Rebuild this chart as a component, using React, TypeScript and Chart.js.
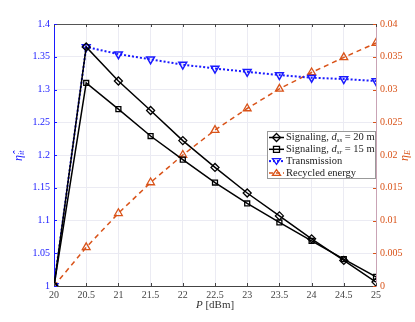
import React, { useEffect, useRef } from "react";
import { Chart, registerables } from "chart.js";

Chart.register(...registerables);

const powers = [20, 20.5, 21, 21.5, 22, 22.5, 23, 23.5, 24, 24.5, 25];
const signaling20 = [1.0, 1.365, 1.313, 1.268, 1.222, 1.181, 1.142, 1.107, 1.072, 1.039, 1.006];
const signaling15 = [1.0, 1.31, 1.27, 1.229, 1.193, 1.158, 1.126, 1.097, 1.069, 1.041, 1.014];
const transmission = [1.0, 1.365, 1.354, 1.346, 1.338, 1.332, 1.327, 1.322, 1.318, 1.316, 1.313];
const recycled = [0.0, 0.0059, 0.0111, 0.0158, 0.02, 0.0238, 0.0271, 0.0301, 0.0326, 0.0349, 0.0371];

const leftTickLabels = ["1", "1.05", "1.1", "1.15", "1.2", "1.25", "1.3", "1.35", "1.4"];
const rightTickLabels = ["0", "0.005", "0.01", "0.015", "0.02", "0.025", "0.03", "0.035", "0.04"];

const BLUE = "#1a1aff";
const ORANGE = "#d95319";
const FONT = "'Liberation Serif', 'DejaVu Serif', serif";

const fmt = (v: number) => String(parseFloat(Number(v).toFixed(4)));

function drawMarker(ctx: CanvasRenderingContext2D, kind: string, x: number, y: number, color: string) {
  ctx.save();
  ctx.strokeStyle = color;
  ctx.lineWidth = 1.3;
  ctx.setLineDash([]);
  ctx.beginPath();
  if (kind === "diamond") {
    const r = 4;
    ctx.moveTo(x, y - r);
    ctx.lineTo(x + r, y);
    ctx.lineTo(x, y + r);
    ctx.lineTo(x - r, y);
    ctx.closePath();
  } else if (kind === "square") {
    const r = 3;
    ctx.rect(x - r, y - r, 2 * r, 2 * r);
  } else if (kind === "down") {
    const r = 4;
    ctx.moveTo(x - r, y - r * 0.6);
    ctx.lineTo(x + r, y - r * 0.6);
    ctx.lineTo(x, y + r * 0.8);
    ctx.closePath();
  } else {
    const r = 4;
    ctx.moveTo(x - r, y + r * 0.6);
    ctx.lineTo(x + r, y + r * 0.6);
    ctx.lineTo(x, y - r * 0.8);
    ctx.closePath();
  }
  ctx.stroke();
  ctx.restore();
}

const decorPlugin = {
  id: "decor",
  afterDraw(chart: any) {
    const ctx: CanvasRenderingContext2D = chart.ctx;
    const a = chart.chartArea;
    ctx.save();
    // top border
    ctx.strokeStyle = "#555";
    ctx.lineWidth = 1;
    ctx.beginPath();
    ctx.moveTo(a.left, a.top + 0.5);
    ctx.lineTo(a.right, a.top + 0.5);
    ctx.stroke();
    // inner tick marks
    const xs = chart.scales.x;
    ctx.strokeStyle = "#444";
    xs.ticks.forEach((t: any) => {
      const px = Math.round(xs.getPixelForValue(t.value)) + 0.5;
      ctx.beginPath();
      ctx.moveTo(px, a.bottom);
      ctx.lineTo(px, a.bottom - 3);
      ctx.moveTo(px, a.top);
      ctx.lineTo(px, a.top + 3);
      ctx.stroke();
    });
    const yl = chart.scales.y;
    ctx.strokeStyle = BLUE;
    yl.ticks.forEach((t: any) => {
      const py = Math.round(yl.getPixelForValue(t.value)) + 0.5;
      ctx.beginPath();
      ctx.moveTo(a.left, py);
      ctx.lineTo(a.left + 3, py);
      ctx.stroke();
    });
    const yr = chart.scales.y1;
    ctx.strokeStyle = ORANGE;
    yr.ticks.forEach((t: any) => {
      const py = Math.round(yr.getPixelForValue(t.value)) + 0.5;
      ctx.beginPath();
      ctx.moveTo(a.right, py);
      ctx.lineTo(a.right - 3, py);
      ctx.stroke();
    });

    // x title
    ctx.fillStyle = "#333";
    ctx.textBaseline = "middle";
    ctx.font = `italic 11px ${FONT}`;
    const pW = ctx.measureText("P").width;
    ctx.font = `11px ${FONT}`;
    const restW = ctx.measureText(" [dBm]").width;
    const cx = (a.left + a.right) / 2;
    let sx = cx - (pW + restW) / 2;
    ctx.font = `italic 11px ${FONT}`;
    ctx.textAlign = "left";
    ctx.fillText("P", sx, 305);
    ctx.font = `11px ${FONT}`;
    ctx.fillText(" [dBm]", sx + pW, 305);

    // left y title
    ctx.save();
    ctx.translate(19, 155);
    ctx.rotate(-Math.PI / 2);
    ctx.fillStyle = BLUE;
    ctx.font = `italic 12px ${FONT}`;
    ctx.textAlign = "left";
    ctx.fillText("η\u0302", -6, 0);
    ctx.font = `italic 8px ${FONT}`;
    ctx.fillText("it", 0, 3);
    ctx.restore();

    // right y title
    ctx.save();
    ctx.translate(405, 155);
    ctx.rotate(-Math.PI / 2);
    ctx.fillStyle = ORANGE;
    ctx.font = `italic 12px ${FONT}`;
    ctx.textAlign = "left";
    ctx.fillText("η", -6, 0);
    ctx.font = `italic 8px ${FONT}`;
    ctx.fillText("E", 0, 3);
    ctx.restore();

    // legend
    const bx = 267, by = 131, bw = 108, bh = 47;
    ctx.fillStyle = "#fff";
    ctx.fillRect(bx, by, bw, bh);
    ctx.strokeStyle = "#999";
    ctx.lineWidth = 1;
    ctx.strokeRect(bx + 0.5, by + 0.5, bw, bh);
    const rows = [
      { kind: "diamond", color: "#000", dash: [] as number[], lw: 1.5, parts: [["Signaling, ", ""], ["d", "i"], ["ss", "s"], [" = 20 m", ""]] },
      { kind: "square", color: "#000", dash: [], lw: 1.5, parts: [["Signaling, ", ""], ["d", "i"], ["sr", "s"], [" = 15 m", ""]] },
      { kind: "down", color: BLUE, dash: [2, 2], lw: 2, parts: [["Transmission", ""]] },
      { kind: "up", color: ORANGE, dash: [4, 3], lw: 1.5, parts: [["Recycled energy", ""]] },
    ];
    rows.forEach((r, i) => {
      const y = by + 6.5 + i * 11.8;
      ctx.save();
      ctx.strokeStyle = r.color;
      ctx.lineWidth = r.lw;
      ctx.setLineDash(r.dash);
      ctx.beginPath();
      ctx.moveTo(bx + 2, y);
      ctx.lineTo(bx + 17, y);
      ctx.stroke();
      ctx.restore();
      drawMarker(ctx, r.kind, bx + 9.5, y, r.color);
      let tx = bx + 19;
      ctx.fillStyle = "#222";
      ctx.textAlign = "left";
      ctx.textBaseline = "middle";
      r.parts.forEach(([txt, st]) => {
        if (st === "i") ctx.font = `italic 10.5px ${FONT}`;
        else if (st === "s") ctx.font = `italic 7px ${FONT}`;
        else ctx.font = `10.5px ${FONT}`;
        ctx.fillText(txt, tx, st === "s" ? y + 2.5 : y);
        tx += ctx.measureText(txt).width;
      });
    });
    ctx.restore();
  },
};

export default function App() {
  const ref = useRef<HTMLCanvasElement | null>(null);
  useEffect(() => {
    if (!ref.current) return;
    const mk = (arr: number[]) => arr.map((v, i) => ({ x: powers[i], y: v }));
    const chart = new Chart(ref.current, {
      type: "line",
      data: {
        datasets: [
          {
            label: "Signaling 20",
            data: mk(signaling20),
            borderColor: "#000",
            borderWidth: 1.5,
            pointStyle: "rectRot",
            pointRadius: 4,
            pointBorderWidth: 1.3,
            pointBackgroundColor: "rgba(0,0,0,0)",
            pointBorderColor: "#000",
            yAxisID: "y",
          },
          {
            label: "Signaling 15",
            data: mk(signaling15),
            borderColor: "#000",
            borderWidth: 1.5,
            pointStyle: "rect",
            pointRadius: 3.5,
            pointBorderWidth: 1.3,
            pointBackgroundColor: "rgba(0,0,0,0)",
            pointBorderColor: "#000",
            yAxisID: "y",
          },
          {
            label: "Transmission",
            data: mk(transmission),
            borderColor: BLUE,
            borderWidth: 2,
            borderDash: [2, 2],
            pointStyle: "triangle",
            rotation: 180,
            pointRadius: 4.5,
            pointBorderWidth: 1.5,
            pointBackgroundColor: "rgba(0,0,0,0)",
            pointBorderColor: BLUE,
            yAxisID: "y",
          } as any,
          {
            label: "Recycled energy",
            data: mk(recycled),
            borderColor: ORANGE,
            borderWidth: 1.5,
            borderDash: [5, 4],
            pointStyle: "triangle",
            pointRadius: 4.5,
            pointBorderWidth: 1.3,
            pointBackgroundColor: "rgba(0,0,0,0)",
            pointBorderColor: ORANGE,
            yAxisID: "y1",
          },
        ],
      },
      options: {
        animation: false,
        responsive: false,
        layout: { padding: { top: 24, left: 0, right: 0, bottom: 0 } },
        plugins: { legend: { display: false }, tooltip: { enabled: false } },
        scales: {
          x: {
            type: "linear",
            min: 20,
            max: 25,
            ticks: {
              stepSize: 0.5,
              autoSkip: false,
              maxRotation: 0,
              color: "#444",
              font: { family: FONT, size: 10 },
              padding: 3,
              callback: (v: any) => fmt(v),
            },
            grid: { color: "#ebebf3", drawTicks: false },
            border: { color: "#444", width: 1 },
            afterFit: (s: any) => { s.height = 36; },
          },
          y: {
            type: "linear",
            position: "left",
            min: 1,
            max: 1.4,
            ticks: {
              stepSize: 0.05,
              autoSkip: false,
              color: BLUE,
              font: { family: FONT, size: 10 },
              padding: 4,
              callback: (v: any, i: number) => leftTickLabels[i] ?? fmt(v),
            },
            grid: { color: "#ebebf3", drawTicks: false },
            border: { color: BLUE, width: 1 },
            afterFit: (s: any) => { s.width = 54; },
          },
          y1: {
            type: "linear",
            position: "right",
            min: 0,
            max: 0.04,
            ticks: {
              stepSize: 0.005,
              autoSkip: false,
              color: ORANGE,
              font: { family: FONT, size: 10 },
              padding: 4,
              callback: (v: any, i: number) => rightTickLabels[i] ?? fmt(v),
            },
            grid: { display: false, drawTicks: false },
            border: { color: "#c9a3b5", width: 1 },
            afterFit: (s: any) => { s.width = 39; },
          },
        },
      },
      plugins: [decorPlugin],
    } as any);
    return () => chart.destroy();
  }, []);
  return (
    <div style={{ position: "fixed", left: 0, top: 0, width: 415, height: 322, background: "#fff" }}>
      <canvas ref={ref} width={415} height={322} style={{ width: 415, height: 322 }} />
    </div>
  );
}
